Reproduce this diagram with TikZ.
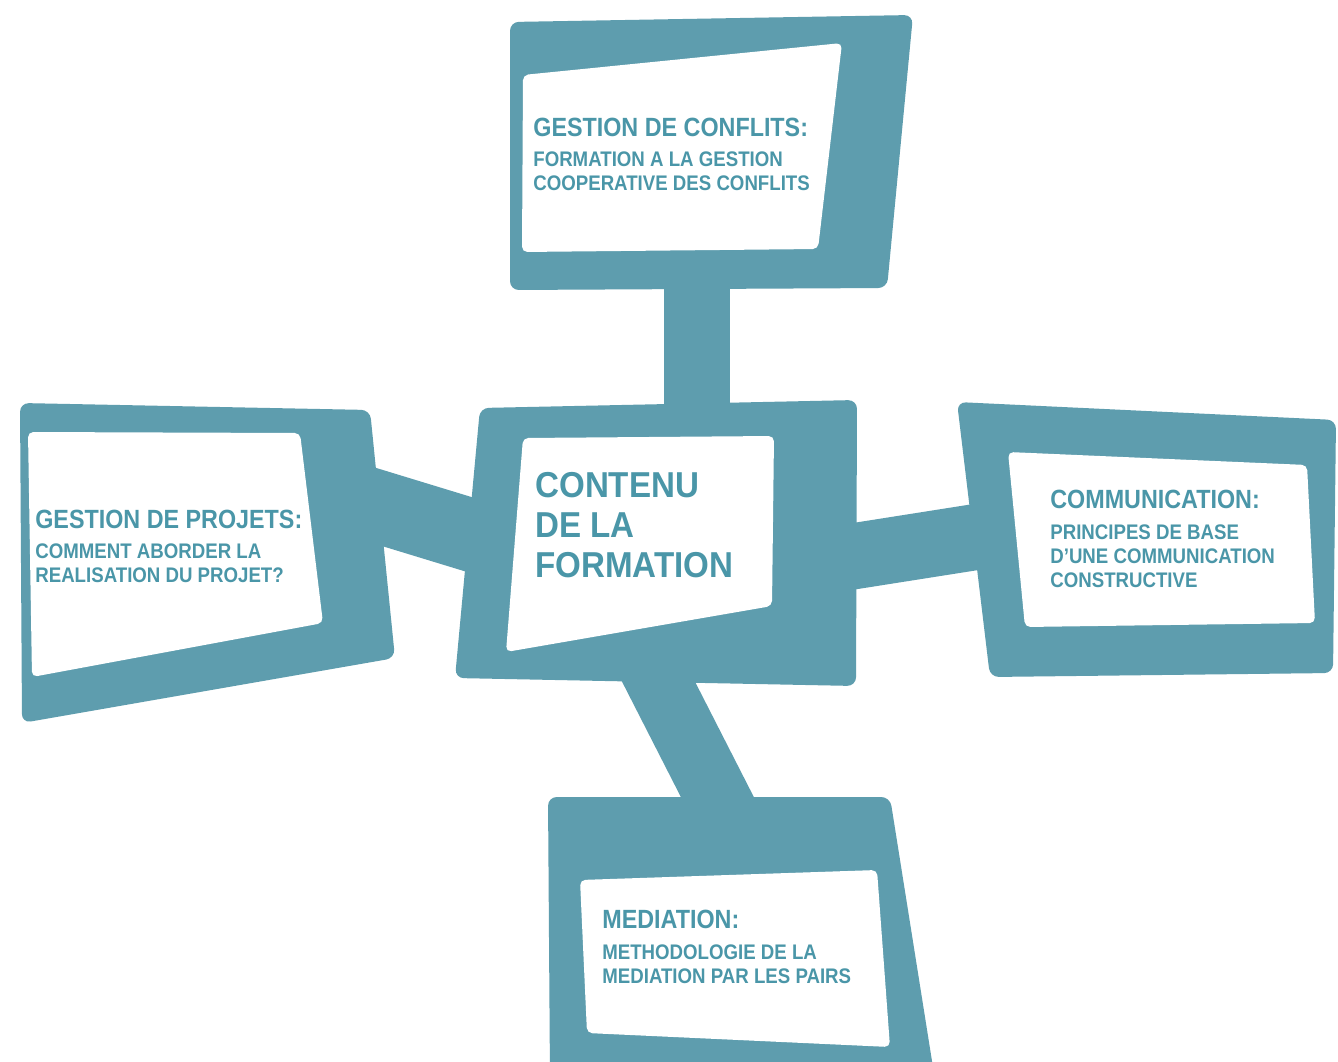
\documentclass[tikz,border=0pt]{standalone}
\usepackage{fontspec}
\setmainfont{Liberation Sans}
\usepackage{graphicx}
\definecolor{teal}{RGB}{94,157,174}
\definecolor{ink}{RGB}{74,150,168}
\newcommand{\sq}[1]{\scalebox{0.885}[1]{#1}}
\newcommand{\sqc}[1]{\scalebox{0.92}[1]{#1}}

\begin{document}
\begin{tikzpicture}[x=0.02cm,y=-0.02cm,
  frame/.style={fill=teal,rounded corners=5pt},
  pane/.style={fill=white,rounded corners=3pt},
  link/.style={draw=teal,line width=1.32cm},
  head/.style={anchor=north west,inner sep=0pt,text=ink,font=\bfseries\fontsize{15}{17}\selectfont},
  sub node/.style={anchor=north west,inner sep=0pt,align=left,text=ink,font=\bfseries\fontsize{12}{13.66}\selectfont}]

  \clip (0,0) rectangle (1338,1061);
  \fill[white] (0,0) rectangle (1338,1061);

  % connector ends
  \coordinate (tfoot) at (697,275);
  \coordinate (ctop) at (697,420);
  \coordinate (lend) at (330,492);
  \coordinate (cleft) at (520,550);
  \coordinate (cright) at (830,560);
  \coordinate (rend) at (995,534);
  \coordinate (cbot) at (650,665);
  \coordinate (btop) at (725,812);

  \draw[link] (tfoot) -- (ctop);
  \draw[link,line width=1.46cm] (lend) -- (cleft);
  \draw[link] (cright) -- (rend);
  \draw[link,line width=1.3cm] (cbot) -- (btop);

  % top
  \fill[frame] (510,22) -- (913,15) -- (887,288) -- (510,290) -- cycle;
  \fill[pane] (523,75) -- (842,43) -- (818,249) -- (522,252) -- cycle;
  % centre
  \fill[frame] (480,408) -- (857,400) -- (856,686) -- (455,678) -- cycle;
  \fill[pane] (523,438) -- (774,436) -- (772,606) -- (506,652) -- cycle;
  % left
  \fill[frame] (20,403) -- (370,410) -- (395,658) -- (22,723) -- cycle;
  \fill[pane] (28,432) -- (300,433) -- (323,623) -- (32,677) -- cycle;
  % right
  \fill[frame] (957,402) -- (1336,420) -- (1333,673) -- (990,677) -- cycle;
  \fill[pane] (1008,452) -- (1307,465) -- (1315,623) -- (1025,627) -- cycle;
  % bottom
  \fill[frame] (548,797) -- (890,797) -- (935,1080) -- (550,1080) -- cycle;
  \fill[pane] (580,880) -- (877,870) -- (890,1047) -- (587,1033) -- cycle;

  \node[head] (conf) at (533,118) {\sq{GESTION DE CONFLITS:}};
  \node[sub node] (conftxt) at (533,151) {\sq{FORMATION A LA GESTION}\\\sq{COOPERATIVE DES CONFLITS}};

  \node[head] (proj) at (35,510) {\sq{GESTION DE PROJETS:}};
  \node[sub node] (projtxt) at (35,543) {\sq{COMMENT ABORDER LA}\\\sq{REALISATION DU PROJET?}};

  \node[sub node,font=\bfseries\fontsize{20.5}{22.76}\selectfont] (cont) at (535,472)
    {\sqc{CONTENU}\\\sqc{DE LA}\\\sqc{FORMATION}};

  \node[head] (comm) at (1050,490) {\sq{COMMUNICATION:}};
  \node[sub node] (commtxt) at (1050,524) {\sq{PRINCIPES DE BASE}\\\sq{D'UNE COMMUNICATION}\\\sq{CONSTRUCTIVE}};

  \node[head] (med) at (602,910) {\sq{MEDIATION:}};
  \node[sub node] (medtxt) at (602,944) {\sq{METHODOLOGIE DE LA}\\\sq{MEDIATION PAR LES PAIRS}};
\end{tikzpicture}
\end{document}
